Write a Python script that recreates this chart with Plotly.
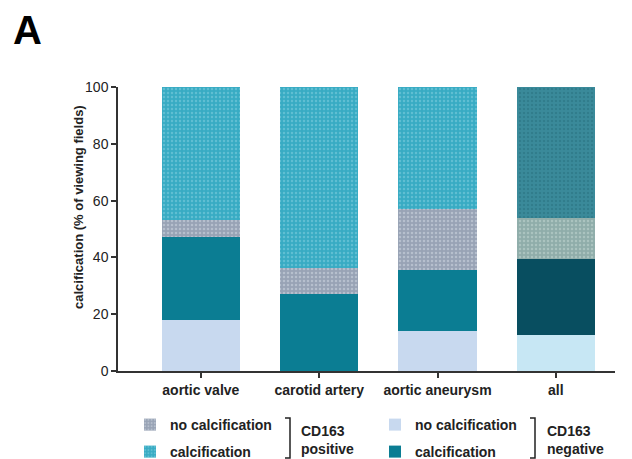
import plotly.graph_objects as go

categories = ["aortic valve", "carotid artery", "aortic aneurysm", "all"]
neg_no_calc = [18, 0, 14, 12.7]
neg_calc = [29.2, 27.1, 21.5, 26.7]
pos_no_calc = [6.0, 9.2, 21.5, 14.5]
pos_calc = [46.8, 63.7, 43.0, 46.1]

tick_vals = [0, 20, 40, 60, 80, 100]

FONT = "Liberation Sans"
OFF = 8  # page body margin
W, H = 632 - OFF, 459 - OFF
# plot area in page pixels: x 118..615, y 87..371
L, R, T, B = 118 - OFF, 632 - 615, 87 - OFF, 459 - 371
PW, PH = W - L - R, H - T - B


def px(x):
    return (x - OFF - L) / PW


def py(y):
    return (H - B - (y - OFF)) / PH


# style per series: (bar colour, pattern dot colour) for tissue groups and for "all"
series = [
    ("<b>no calcification</b>", neg_no_calc, "legend3", ("#c8d9ef", None), ("#c7e7f4", None)),
    ("<b>calcification</b>", neg_calc, "legend4", ("#0b7d93", None), ("#084e60", None)),
    ("<b>no calcification</b>", pos_no_calc, "legend", ("#98a3b5", "#d3d9e3"), ("#8fadaa", "#c4d8d4")),
    ("<b>calcification</b>", pos_calc, "legend2", ("#38abc3", "#86d0df"), ("#3a8a9a", "#27707e")),
]

fig = go.Figure()
n = len(categories)
for name, vals, lg, st_main, st_all in series:
    for cats, vv, st, show in [
        (categories[:n - 1], vals[:n - 1], st_main, True),
        (categories[n - 1:], vals[n - 1:], st_all, False),
    ]:
        marker = dict(color=st[0], line_width=0)
        if st[1]:
            marker["pattern"] = dict(shape=".", size=4, solidity=0.3,
                                     fillmode="overlay", fgcolor=st[1])
        fig.add_trace(go.Bar(x=cats, y=vv, name=name, legend=lg, showlegend=show,
                             marker=marker, offsetgroup="a"))

legfont = dict(family=FONT, size=14, color="#222")
def leg(xp, yp):
    return dict(x=px(xp), y=py(yp), xanchor="left", yanchor="middle",
                font=legfont, bgcolor="rgba(0,0,0,0)", borderwidth=0,
                itemclick=False, itemdoubleclick=False)

fig.update_layout(
    width=W, height=H,
    margin=dict(l=L, r=R, t=T, b=B, autoexpand=False),
    paper_bgcolor="white", plot_bgcolor="white",
    barmode="stack", bargap=0.34,
    showlegend=True,
    legend=leg(130, 425),
    legend2=leg(130, 452),
    legend3=leg(375, 425),
    legend4=leg(375, 452),
    xaxis=dict(
        range=[-0.7, 3.5], showline=True, linecolor="#333", linewidth=1.5,
        ticks="outside", ticklen=5, tickwidth=1.5, tickcolor="#333",
        tickfont=dict(family=FONT, size=14, color="#222"), showgrid=False,
        zeroline=False, categoryorder="array", categoryarray=categories,
    ),
    yaxis=dict(
        range=[0, 100], tickvals=tick_vals, showline=True, linecolor="#333",
        linewidth=1.5, ticks="outside", ticklen=5, tickwidth=1.5, tickcolor="#333",
        tickfont=dict(family=FONT, size=14, color="#222"), showgrid=False,
        zeroline=False,
    ),
    font=dict(family=FONT, color="#222"),
)
fig.update_xaxes(tickprefix="<b>", ticksuffix="</b>")
fig.update_yaxes(tickprefix="<b>", ticksuffix="</b>")

# Y-axis title
fig.add_annotation(x=px(78), y=py(207), xref="paper", yref="paper",
                   text="<b>calcification (% of viewing fields)</b>", textangle=-90,
                   showarrow=False, xanchor="center", yanchor="middle",
                   font=dict(family=FONT, size=13, color="#222"))

# Panel letter
fig.add_annotation(x=px(11), y=py(30), xref="paper", yref="paper", text="<b>A</b>",
                   showarrow=False, xanchor="left", yanchor="middle",
                   font=dict(family=FONT, size=40, color="black"))

# Brackets and group labels
for bx, tx, label in [(290, 299, "CD163<br>positive"), (535, 545, "CD163<br>negative")]:
    fig.add_shape(type="path", xref="paper", yref="paper",
                  path=f"M {px(bx-5)},{py(418)} L {px(bx)},{py(418)} L {px(bx)},{py(458)} L {px(bx-5)},{py(458)}",
                  line=dict(color="#222", width=1.5))
    fig.add_annotation(x=px(tx), y=py(440), xref="paper", yref="paper",
                       text=f"<b>{label}</b>", showarrow=False, xanchor="left",
                       yanchor="middle", align="left",
                       font=dict(family=FONT, size=14, color="#222"))

fig.write_html("out.html")
